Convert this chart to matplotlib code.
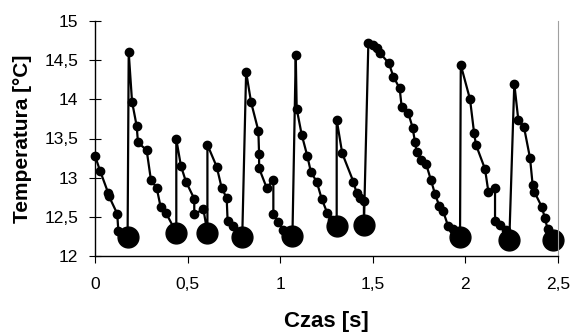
import matplotlib.pyplot as plt

# Temperature readings (time in s, temperature in deg C)
czas = [0.000, 0.027, 0.072, 0.076, 0.120, 0.126, 0.176,
        0.182, 0.200, 0.225, 0.232, 0.279, 0.302, 0.333, 0.355, 0.383, 0.439,
        0.439, 0.464, 0.491, 0.536, 0.536, 0.585, 0.607,
        0.607, 0.657, 0.684, 0.711, 0.716, 0.747, 0.795,
        0.816, 0.843, 0.882, 0.886, 0.886, 0.927, 0.963, 0.963, 0.990, 1.017, 1.066,
        1.084, 1.089, 1.116, 1.146, 1.166, 1.197, 1.224, 1.254, 1.278, 1.305,
        1.305, 1.335, 1.395, 1.413, 1.431, 1.452, 1.452,
        1.476, 1.499, 1.521, 1.539, 1.587, 1.611, 1.645, 1.656, 1.692, 1.715,
        1.728, 1.737, 1.759, 1.787, 1.814, 1.836, 1.859, 1.880, 1.907, 1.935, 1.971,
        1.975, 2.025, 2.047, 2.057, 2.106, 2.124, 2.160, 2.160, 2.187, 2.219, 2.237,
        2.264, 2.286, 2.316, 2.349, 2.363, 2.372, 2.412, 2.430, 2.444, 2.474]
temperatura = [13.28, 13.09, 12.80, 12.76, 12.54, 12.32, 12.24,
               14.60, 13.97, 13.66, 13.45, 13.35, 12.97, 12.87, 12.62, 12.55, 12.30,
               13.49, 13.15, 12.95, 12.73, 12.53, 12.60, 12.30,
               13.42, 13.14, 12.87, 12.74, 12.45, 12.38, 12.24,
               14.35, 13.96, 13.60, 13.30, 13.12, 12.87, 12.97, 12.53, 12.44, 12.33, 12.25,
               14.57, 13.88, 13.55, 13.28, 13.07, 12.95, 12.73, 12.55, 12.46, 12.38,
               13.74, 13.31, 12.95, 12.80, 12.74, 12.70, 12.40,
               14.72, 14.69, 14.65, 14.59, 14.46, 14.29, 14.14, 13.90, 13.82, 13.64,
               13.45, 13.33, 13.22, 13.18, 12.97, 12.79, 12.64, 12.57, 12.38, 12.34, 12.24,
               14.44, 14.00, 13.57, 13.42, 13.11, 12.82, 12.87, 12.45, 12.40, 12.33, 12.20,
               14.20, 13.73, 13.65, 13.25, 12.91, 12.82, 12.63, 12.48, 12.34, 12.21]

# Minima marked with big dots
czas_min = [0.176, 0.439, 0.607, 0.795, 1.066, 1.305, 1.452, 1.971, 2.237, 2.474]
temp_min = [12.24, 12.30, 12.30, 12.24, 12.25, 12.38, 12.40, 12.24, 12.20, 12.21]

x_ticks = [0, 0.5, 1, 1.5, 2, 2.5]
x_labels = ['0', '0,5', '1', '1,5', '2', '2,5']
y_ticks = [12, 12.5, 13, 13.5, 14, 14.5, 15]
y_labels = ['12', '12,5', '13', '13,5', '14', '14,5', '15']

plt.rcParams['font.family'] = ['Liberation Sans', 'DejaVu Sans']

fig = plt.figure(figsize=(5.74, 3.33), dpi=100)
ax = fig.add_axes([95 / 574, 1 - 256 / 333, 463 / 574, 235 / 333])

ax.plot(czas, temperatura, color='black', linewidth=1.6, marker='o',
        markersize=6, clip_on=False)
ax.plot(czas_min, temp_min, linestyle='none', marker='o', color='black',
        markersize=15, clip_on=False)

ax.set_xlim(0, 2.5)
ax.set_ylim(12, 15)
ax.set_xticks(x_ticks)
ax.set_xticklabels(x_labels)
ax.set_yticks(y_ticks)
ax.set_yticklabels(y_labels)
ax.tick_params(axis='x', direction='out', length=5, width=0.8, labelsize=12.5, pad=10)
ax.tick_params(axis='y', direction='inout', length=8, width=0.8, labelsize=12.5, pad=8)

ax.spines['top'].set_visible(False)
ax.spines['right'].set_color('#a0a0a0')
ax.spines['left'].set_linewidth(1.0)
ax.spines['bottom'].set_linewidth(1.0)

ax.set_xlabel('Czas [s]', fontsize=16, fontweight='bold', labelpad=14)
ax.set_ylabel('Temperatura [°C]', fontsize=15, fontweight='bold', labelpad=9)

fig.savefig('out.png', dpi=100)
